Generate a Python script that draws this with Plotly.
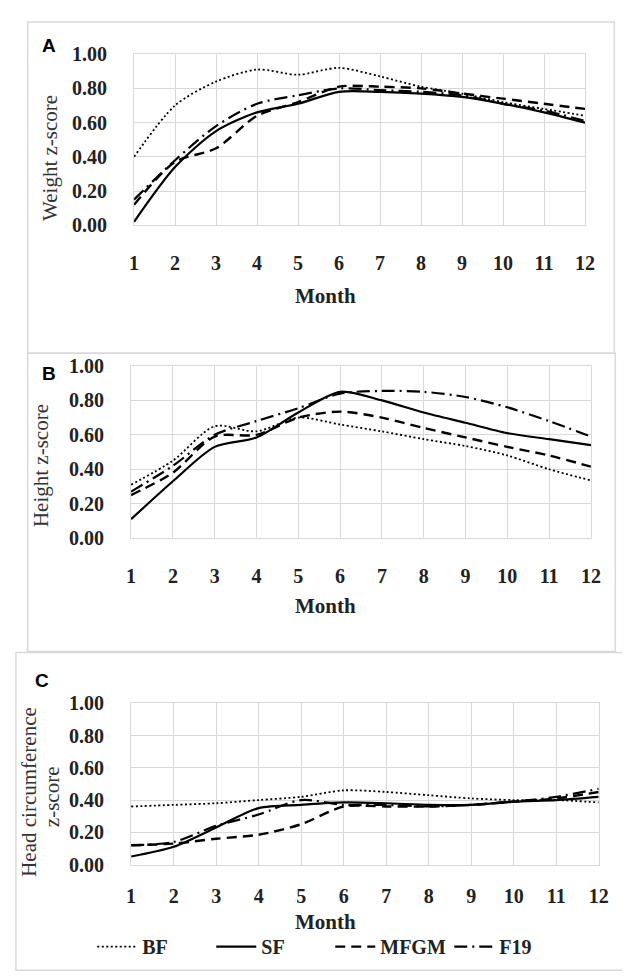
import plotly.graph_objects as go

W, H = 630, 979

months = list(range(1, 13))
series_names = ["BF", "SF", "MFGM", "F19"]

# Panel A: Weight z-score
weight_bf = [0.40, 0.70, 0.84, 0.91, 0.88, 0.92, 0.87, 0.81, 0.77, 0.72, 0.68, 0.64]
weight_sf = [0.02, 0.34, 0.55, 0.66, 0.71, 0.78, 0.78, 0.77, 0.75, 0.71, 0.66, 0.60]
weight_mfgm = [0.12, 0.37, 0.45, 0.64, 0.72, 0.81, 0.81, 0.80, 0.77, 0.74, 0.71, 0.68]
weight_f19 = [0.15, 0.38, 0.58, 0.71, 0.76, 0.80, 0.79, 0.78, 0.76, 0.71, 0.67, 0.61]

# Panel B: Height z-score
height_bf = [0.31, 0.45, 0.65, 0.62, 0.70, 0.66, 0.62, 0.575, 0.535, 0.48, 0.40, 0.335]
height_sf = [0.11, 0.33, 0.53, 0.585, 0.73, 0.85, 0.80, 0.73, 0.67, 0.61, 0.575, 0.54]
height_mfgm = [0.25, 0.38, 0.59, 0.60, 0.70, 0.735, 0.70, 0.64, 0.585, 0.53, 0.48, 0.415]
height_f19 = [0.27, 0.42, 0.60, 0.68, 0.755, 0.84, 0.855, 0.85, 0.82, 0.76, 0.68, 0.59]

# Panel C: Head circumference z-score
head_bf = [0.36, 0.37, 0.38, 0.40, 0.42, 0.46, 0.45, 0.43, 0.41, 0.40, 0.40, 0.385]
head_sf = [0.05, 0.11, 0.23, 0.35, 0.37, 0.385, 0.38, 0.37, 0.37, 0.39, 0.40, 0.42]
head_mfgm = [0.12, 0.13, 0.16, 0.185, 0.25, 0.36, 0.36, 0.36, 0.37, 0.39, 0.41, 0.45]
head_f19 = [0.12, 0.14, 0.24, 0.31, 0.40, 0.37, 0.37, 0.36, 0.37, 0.39, 0.42, 0.47]

y_ticks = [0.0, 0.2, 0.4, 0.6, 0.8, 1.0]

styles = {
    "BF": dict(dash="2px,2.5px", width=1.8),
    "SF": dict(dash="solid", width=2.2),
    "MFGM": dict(dash="10px,6px", width=2.4),
    "F19": dict(dash="13px,5px,2px,5px", width=2.2),
}

panels = [
    ("A", [weight_bf, weight_sf, weight_mfgm, weight_f19]),
    ("B", [height_bf, height_sf, height_mfgm, height_f19]),
    ("C", [head_bf, head_sf, head_mfgm, head_f19]),
]


def px(x):
    return x / W


def py(y):
    return 1 - y / H


# plot area pixel boxes (left, right, top, bottom)
plot_boxes = [(124, 586, 36, 211), (121, 592, 355, 531), (121, 600, 700, 865)]
panel_frames = [(15, 3, 616, 342), (15, 342, 617, 647), (3, 648, 627, 973)]
letter_pos = [(37, 27), (37, 363), (30, 677)]
month_y = [283, 600, 924]
xstandoff = [20, 20, 13]

fig = go.Figure()

tick_font = dict(family="Liberation Serif", size=20, color="#222222", weight="bold")
grid = "#d9d9d9"

layout = dict(
    width=W, height=H,
    margin=dict(l=0, r=0, t=0, b=0),
    paper_bgcolor="white", plot_bgcolor="white",
    showlegend=True,
    legend=dict(orientation="h", x=px(325), xanchor="center", y=py(949), yanchor="middle",
                font=dict(family="Liberation Serif", size=20, color="#222222", weight="bold"),
                entrywidth=64, entrywidthmode="pixels",
                itemwidth=40, tracegroupgap=0, bgcolor="rgba(0,0,0,0)"),
    shapes=[], annotations=[],
)

for i, (letter, data) in enumerate(panels):
    xa = "xaxis" if i == 0 else f"xaxis{i+1}"
    ya = "yaxis" if i == 0 else f"yaxis{i+1}"
    xref = "x" if i == 0 else f"x{i+1}"
    yref = "y" if i == 0 else f"y{i+1}"
    l, r, t, b = plot_boxes[i]
    layout[xa] = dict(domain=[px(l), px(r)], anchor=yref, range=[1, 12],
                      tickmode="array", tickvals=months, ticktext=[str(m) for m in months],
                      showgrid=True, gridcolor=grid, gridwidth=1.3,
                      showline=True, linecolor=grid, linewidth=1.3, mirror=True,
                      zeroline=False, ticks="", ticklabelstandoff=xstandoff[i],
                      tickfont=tick_font, fixedrange=True)
    layout[ya] = dict(domain=[py(b), py(t)], anchor=xref, range=[0, 1],
                      tickmode="array", tickvals=y_ticks, ticktext=[f"{v:.2f}" for v in y_ticks],
                      showgrid=True, gridcolor=grid, gridwidth=1.3,
                      showline=True, linecolor=grid, linewidth=1.3, mirror=True,
                      zeroline=False, ticks="", ticklabelstandoff=22,
                      tickfont=tick_font, fixedrange=True)
    for name, vals in zip(series_names, data):
        st = styles[name]
        fig.add_trace(go.Scatter(
            x=months, y=vals, mode="lines", name=name,
            line=dict(color="black", width=st["width"], dash=st["dash"],
                      shape="spline", smoothing=0.8),
            xaxis=xref, yaxis=yref, showlegend=(i == 2), cliponaxis=False,
        ))
    fx0, fy0, fx1, fy1 = panel_frames[i]
    layout["shapes"].append(dict(type="rect", xref="paper", yref="paper",
                                 x0=px(fx0), x1=px(fx1), y0=py(fy1), y1=py(fy0),
                                 line=dict(color="#d9d9d9", width=1.5), layer="below"))
    lx, ly = letter_pos[i]
    layout["annotations"].append(dict(text=letter, xref="paper", yref="paper",
                                      x=px(lx), y=py(ly), showarrow=False,
                                      xanchor="center", yanchor="middle",
                                      font=dict(family="Liberation Sans", size=19,
                                                color="black", weight="bold")))
    layout["annotations"].append(dict(text="Month", xref="paper", yref="paper",
                                      x=px(320), y=py(month_y[i]), showarrow=False,
                                      xanchor="center", yanchor="middle",
                                      font=dict(family="Liberation Serif", size=21,
                                                color="#222222", weight="bold")))

# y-axis titles
ytitle_specs = [
    ("Weight z-score", 38, 142),
    ("Height z-score", 28, 457),
    ("Head circumference", 17, 791),
    ("z-score", 40, 796),
]
for text, x, y in ytitle_specs:
    layout["annotations"].append(dict(text=text, xref="paper", yref="paper", x=px(x), y=py(y),
                                      showarrow=False, textangle=-90, xanchor="center",
                                      yanchor="middle",
                                      font=dict(family="Liberation Serif", size=21, color="#333333")))

fig.update_layout(**layout)
fig.write_html("out.html")
